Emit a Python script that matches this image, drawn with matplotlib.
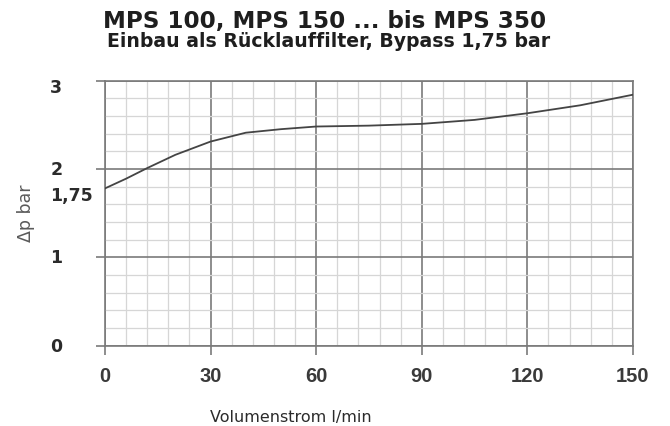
import matplotlib
matplotlib.use("Agg")
import matplotlib.pyplot as plt
from matplotlib.ticker import MultipleLocator
import matplotlib.transforms as mtransforms

# curve
flow = [0, 6, 12, 20, 30, 40, 50, 60, 75, 90, 105, 120, 135, 150]
dp = [1.78, 1.89, 2.01, 2.16, 2.31, 2.41, 2.45, 2.48, 2.49, 2.51, 2.555, 2.63, 2.72, 2.84]

x_ticks = [0, 30, 60, 90, 120, 150]
y_ticks = [0, 1, 1.75, 2, 3]
y_tick_labels = ["0", "1", "1,75", "2", "3"]

title = "MPS 100, MPS 150 ... bis MPS 350"
subtitle = "Einbau als Rücklauffilter, Bypass 1,75 bar"

MAJOR = "#7a7a7a"
MINOR = "#d6d6d6"
TEXT = "#2b2b2b"

fig = plt.figure(figsize=(6.7, 4.27), dpi=100)
ax = fig.add_axes([0.1567, 0.188, 0.788, 0.621])

ax.plot(flow, dp, color="#444444", linewidth=1.3, zorder=5)

ax.set_xlim(0, 150)
ax.set_ylim(0, 3)
ax.xaxis.set_major_locator(MultipleLocator(30))
ax.xaxis.set_minor_locator(MultipleLocator(6))
ax.yaxis.set_major_locator(MultipleLocator(1))
ax.yaxis.set_minor_locator(MultipleLocator(0.2))

ax.grid(which="minor", color=MINOR, linewidth=0.9)
ax.grid(which="major", color=MAJOR, linewidth=1.2)
ax.set_axisbelow(True)
for side in ["top", "right", "bottom", "left"]:
    ax.spines[side].set_color(MAJOR)
    ax.spines[side].set_linewidth(1.2)

ax.tick_params(which="minor", length=0)
ax.tick_params(axis="x", which="major", length=6.5, width=1.2, color=MAJOR,
               pad=8, labelsize=14.5, labelcolor="#3a3a3a")
ax.tick_params(axis="y", which="major", length=6.5, width=1.2, color=MAJOR,
               labelleft=False)
ax.set_xticks(x_ticks)
for lbl in ax.get_xticklabels():
    lbl.set_fontfamily("Liberation Sans")
    lbl.set_fontweight("bold")

# y labels are left-aligned in the reference, so place them as text
trans = mtransforms.blended_transform_factory(fig.transFigure, ax.transData)
nudge = {"3": -4.5, "1,75": -3}  # points, the original sits a little low there
for val, lab in zip(y_ticks, y_tick_labels):
    ax.annotate(lab, (0.075, val), xycoords=trans, xytext=(0, nudge.get(lab, 0)),
                textcoords="offset points", ha="left", va="center",
                fontsize=12.5, fontweight="bold", color=TEXT)
ax.set_yticks([0, 1, 2, 3])

fig.text(0.039, 0.50, "Δp bar", rotation=90, ha="center", va="center",
         fontsize=12.5, color="#5a5a5a")
fig.text(0.434, 0.023, "Volumenstrom l/min", ha="center", va="center",
         fontsize=11.5, color=TEXT)

fig.text(0.485, 0.934, title, ha="center", va="baseline",
         fontsize=16.6, fontweight="bold", color="#1e1e1e")
fig.text(0.490, 0.889, subtitle, ha="center", va="baseline",
         fontsize=13.6, fontweight="bold", color="#1e1e1e")

fig.savefig("out.png", dpi=100)
